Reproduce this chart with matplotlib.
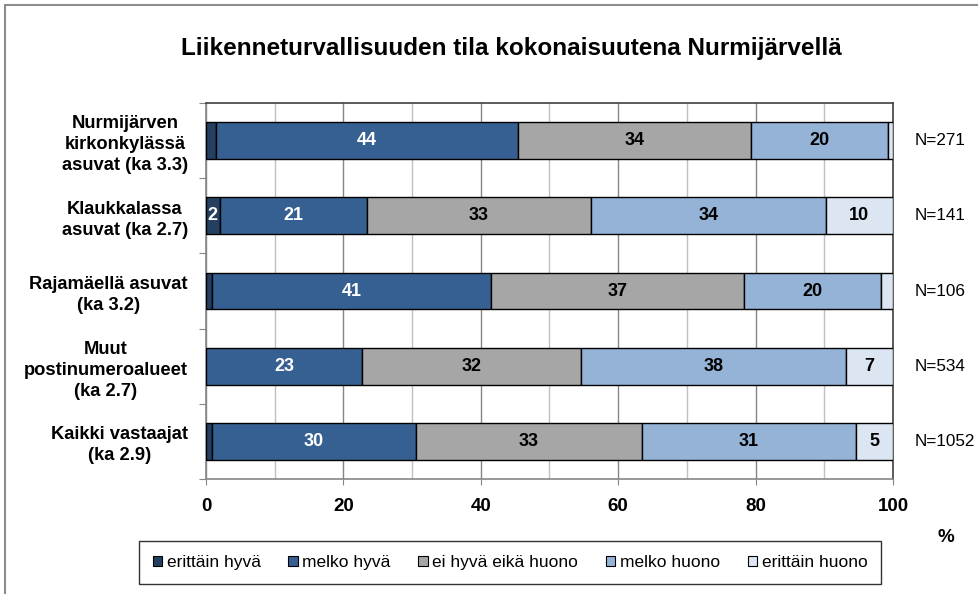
import matplotlib
matplotlib.use("Agg")
import matplotlib.pyplot as plt
import matplotlib.patches as mpatches
import numpy as np

plt.rcParams.update({
    "font.family": ["Liberation Sans", "DejaVu Sans"],
})

TITLE = "Liikenneturvallisuuden tila kokonaisuutena Nurmijärvellä"
GROUPS = [
    "Nurmijärven\nkirkonkylässä\nasuvat (ka 3.3)",
    "Klaukkalassa\nasuvat (ka 2.7)",
    "Rajamäellä asuvat\n(ka 3.2)",
    "Muut\npostinumeroalueet\n(ka 2.7)",
    "Kaikki vastaajat\n(ka 2.9)",
]
N_LABELS = ["N=271", "N=141", "N=106", "N=534", "N=1052"]
SERIES = ["erittäin hyvä", "melko hyvä", "ei hyvä eikä huono", "melko huono", "erittäin huono"]

erittain_hyva = [1.5, 2.0, 0.9, 0.0, 0.9]
melko_hyva = [43.9, 21.4, 40.6, 22.7, 29.6]
ei_hyva_eika_huono = [34.0, 32.6, 36.8, 31.9, 33.0]
melko_huono = [19.8, 34.2, 19.9, 38.5, 31.1]
erittain_huono = [0.8, 9.8, 1.8, 6.9, 5.4]

COLORS = ["#243F60", "#376092", "#A6A6A6", "#95B3D7", "#DCE6F2"]
TEXT_COLORS = ["white", "white", "black", "black", "black"]

fig = plt.figure(figsize=(9.79, 5.94), dpi=100)
ax = fig.add_axes([206 / 979, 1 - 479 / 594, 687 / 979, 376 / 594])

data = np.array([erittain_hyva, melko_hyva, ei_hyva_eika_huono, melko_huono, erittain_huono])
y = np.arange(len(GROUPS))
left = np.zeros(len(GROUPS))
for vals, name, col, tcol in zip(data, SERIES, COLORS, TEXT_COLORS):
    ax.barh(y, vals, left=left, height=0.49, color=col, edgecolor="black",
            linewidth=1.0, label=name, zorder=3)
    for yi, (l, v) in enumerate(zip(left, vals)):
        if v >= 2.0:
            ax.text(l + v / 2, yi, f"{v:.0f}", ha="center", va="center",
                    color=tcol, fontsize=13, fontweight="bold", zorder=4)
    left = left + vals

ax.set_xlim(0, 100)
ax.set_ylim(len(GROUPS) - 0.5, -0.5)

ax.set_xticks(np.arange(0, 101, 20))
ax.set_xticks(np.arange(10, 100, 20), minor=True)
ax.set_xticklabels([str(v) for v in range(0, 101, 20)], fontsize=13.5, fontweight="bold")
ax.tick_params(axis="x", which="major", length=4, color="#868686", pad=10)
ax.tick_params(axis="x", which="minor", length=0)
ax.grid(axis="x", which="major", color="#868686", linewidth=1.0, zorder=0)
ax.grid(axis="x", which="minor", color="#C0C0C0", linewidth=1.0, zorder=0)

ax.set_yticks(np.arange(-0.5, len(GROUPS) + 0.5, 1.0))
ax.set_yticklabels([])
ax.set_yticks(y, minor=True)
ax.set_yticklabels(GROUPS, minor=True, fontsize=13.2, fontweight="bold",
                   multialignment="center", linespacing=1.3)
ax.tick_params(axis="y", which="major", length=5, color="#868686")
ax.tick_params(axis="y", which="minor", length=0, pad=13)

for s in ["left", "bottom"]:
    ax.spines[s].set_color("#868686")
    ax.spines[s].set_linewidth(1.2)
for s in ["top", "right"]:
    ax.spines[s].set_color("#404040")
    ax.spines[s].set_linewidth(1.2)

for yi, lab in enumerate(N_LABELS):
    ax.text(1.032, yi, lab, transform=ax.get_yaxis_transform(), ha="left",
            va="center", fontsize=12.3)

fig.text(511 / 979, 1 - 49 / 594, TITLE, ha="center", va="center",
         fontsize=17.5, fontweight="bold")
fig.text(946 / 979, 1 - 538 / 594, "%", ha="center", va="center",
         fontsize=13.5, fontweight="bold")

handles = [mpatches.Patch(facecolor=c, edgecolor="black", linewidth=0.8) for c in COLORS]
leg = fig.legend(handles, SERIES, loc="center", bbox_to_anchor=(510 / 979, 1 - 562.5 / 594),
                 ncol=5, fontsize=12.5, frameon=True, fancybox=False, edgecolor="black",
                 handlelength=0.55, handleheight=0.55, handletextpad=0.25, columnspacing=1.6,
                 borderpad=0.8)
leg.get_frame().set_linewidth(1.0)

fig.patches.append(mpatches.Rectangle((5.5 / 979, -0.01), 1.0, 1 - 4.7 / 594 + 0.01,
                                      transform=fig.transFigure, fill=False,
                                      edgecolor="#8C8C8C", linewidth=1.5))

fig.savefig("out.png", dpi=100)
